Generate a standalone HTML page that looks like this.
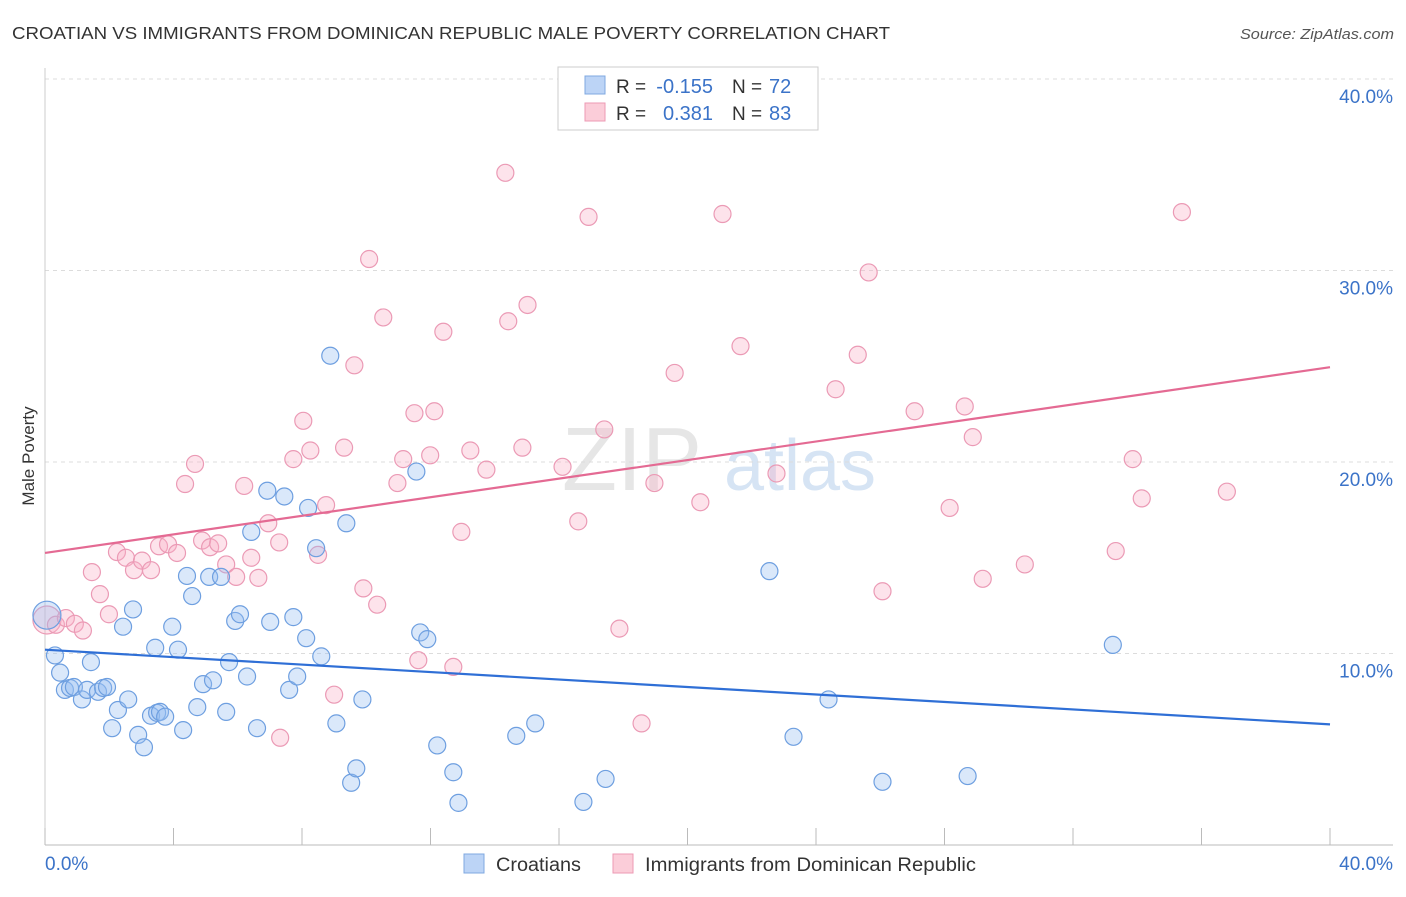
<!DOCTYPE html>
<html><head><meta charset="utf-8"><style>
body{margin:0;background:#fff;font-family:"Liberation Sans",sans-serif;}
svg text{font-family:"Liberation Sans",sans-serif;}
</style></head><body>
<svg id="chart" width="1406" height="892" xmlns="http://www.w3.org/2000/svg">
<text x="12" y="39" font-size="17.5" fill="#333" textLength="878" lengthAdjust="spacingAndGlyphs">CROATIAN VS IMMIGRANTS FROM DOMINICAN REPUBLIC MALE POVERTY CORRELATION CHART</text>
<text x="1240" y="39" font-size="14.5" fill="#555" textLength="154" lengthAdjust="spacingAndGlyphs" font-style="italic">Source: ZipAtlas.com</text>
<text transform="translate(34,456) rotate(-90)" font-size="17" fill="#333" text-anchor="middle">Male Poverty</text>
<g><text x="632" y="490" font-size="90" fill="#e6e6e6" font-family="Liberation Serif" text-anchor="middle">ZIP</text><text x="800" y="490" font-size="72" fill="#d6e4f4" text-anchor="middle">atlas</text></g>
<g id="grid"></g><g id="axes"></g><g id="marks"></g>
<g>
<rect x="558" y="67" width="260" height="63" fill="#fff" stroke="#ccc"/>
<rect x="585" y="76" width="20" height="18" fill="#bcd4f6" stroke="#7fa8e0"/>
<rect x="585" y="103" width="20" height="18" fill="#fbcdd9" stroke="#ec9ab4"/>
<text x="616" y="93" font-size="19" fill="#333">R =</text>
<text x="713" y="93" font-size="20" fill="#3b73c8" text-anchor="end">-0.155</text>
<text x="732" y="93" font-size="19" fill="#333">N =</text>
<text x="769" y="93" font-size="20" fill="#3b73c8">72</text>
<text x="616" y="120" font-size="19" fill="#333">R =</text>
<text x="713" y="120" font-size="20" fill="#3b73c8" text-anchor="end">0.381</text>
<text x="732" y="120" font-size="19" fill="#333">N =</text>
<text x="769" y="120" font-size="20" fill="#3b73c8">83</text>
</g>
<g>
<rect x="464" y="854" width="20" height="19" fill="#bcd4f6" stroke="#7fa8e0"/>
<text x="496" y="871" font-size="19" fill="#333" textLength="85" lengthAdjust="spacingAndGlyphs">Croatians</text>
<rect x="613" y="854" width="20" height="19" fill="#fbcdd9" stroke="#ec9ab4"/>
<text x="645" y="871" font-size="19" fill="#333" textLength="331" lengthAdjust="spacingAndGlyphs">Immigrants from Dominican Republic</text>
</g>
</svg>
<script>
const blueX=[0.06,0.31,0.47,0.62,0.78,0.9,1.15,1.31,1.43,1.65,1.81,1.93,2.09,2.27,2.43,2.59,2.74,2.9,3.08,3.3,3.49,3.58,3.74,3.96,3.43,4.14,4.3,4.42,4.58,4.74,4.92,5.11,5.23,5.48,5.73,5.64,5.92,6.07,6.29,6.42,6.6,6.92,7.01,7.45,7.6,7.73,7.85,8.13,8.19,8.44,8.6,8.88,9.07,9.38,9.53,9.69,9.88,11.56,11.68,11.9,12.21,12.71,12.87,14.67,15.26,16.76,17.45,22.55,23.3,24.39,26.07,28.72,33.24];
const blueY=[12.0,9.9,9.0,8.1,8.2,8.25,7.6,8.1,9.55,8.0,8.2,8.25,6.1,7.05,11.4,7.6,12.3,5.75,5.1,6.75,6.9,6.95,6.7,11.4,10.3,10.2,6.0,14.05,13.0,7.2,8.4,14.0,8.6,14.0,9.55,6.95,11.7,12.05,8.8,16.35,6.1,18.5,11.65,18.2,8.1,11.9,8.8,10.8,17.6,15.5,9.85,25.55,6.35,16.8,3.25,4.0,7.6,19.5,11.1,10.75,5.2,3.8,2.2,5.7,6.35,2.25,3.45,14.3,5.65,7.6,3.3,3.6,10.45];
const pinkX=[0.06,0.34,0.65,0.93,1.18,1.46,1.71,1.99,2.24,2.52,2.77,3.02,3.3,3.55,3.83,4.11,4.36,4.67,4.89,5.14,5.39,5.64,5.95,6.2,6.42,6.64,6.95,7.32,7.29,7.73,8.04,8.26,8.5,8.75,9.0,9.31,9.63,9.91,10.09,10.34,10.53,10.97,11.15,11.5,11.62,11.99,12.12,12.4,12.71,12.96,13.24,13.74,14.33,14.42,14.86,15.02,16.11,16.6,16.92,17.41,17.88,18.57,18.97,19.6,20.4,21.09,21.65,22.77,24.61,25.3,25.64,26.07,27.07,28.16,28.63,28.88,29.19,30.5,33.33,33.86,34.14,35.39,36.79];
const pinkY=[11.75,11.5,11.85,11.55,11.2,14.25,13.1,12.05,15.3,15.0,14.35,14.85,14.35,15.6,15.7,15.25,18.85,19.9,15.9,15.55,15.75,14.65,14.0,18.75,15.0,13.95,16.8,5.6,15.8,20.15,22.15,20.6,15.15,17.75,7.85,20.75,25.05,13.4,30.6,12.55,27.55,18.9,20.15,22.55,9.65,20.35,22.65,26.8,9.3,16.35,20.6,19.6,35.1,27.35,20.75,28.2,19.75,16.9,32.8,21.7,11.3,6.35,18.9,24.65,17.9,32.95,26.05,19.4,23.8,25.6,29.9,13.25,22.65,17.6,22.9,21.3,13.9,14.65,15.35,20.15,18.1,33.05,18.45];
const yTicks=[10,20,30,40];
const yTickLabels=["10.0%","20.0%","30.0%","40.0%"];
const blueTrend=[10.2,6.3];
const pinkTrend=[15.25,24.95];
const NS="http://www.w3.org/2000/svg";
const sx=v=>45+v*32.125, sy=v=>845-v*19.15;
function mk(t,a,p){const e=document.createElementNS(NS,t);for(const k in a)e.setAttribute(k,a[k]);p.appendChild(e);return e;}
const grid=document.getElementById('grid'),axes=document.getElementById('axes'),marks=document.getElementById('marks');
yTicks.forEach((t,i)=>{
 const l=mk('line',{x1:45,x2:1393,y1:sy(t),y2:sy(t),stroke:'#dcdcdc','stroke-dasharray':'4,4'},grid);
 
 
 const tx=mk('text',{x:1393,y:sy(t)+24,'font-size':19,fill:'#3b73c8','text-anchor':'end'},axes);tx.textContent=yTickLabels[i];
 
 
});
const ax=mk('line',{x1:45,x2:1393,y1:845,y2:845,stroke:'#bbb'},axes);


const ay=mk('line',{x1:45,x2:45,y1:68,y2:845,stroke:'#ccc'},axes);


for(let i=0;i<=10;i++){const t=mk('line',{x1:sx(i*4),x2:sx(i*4),y1:828,y2:845,stroke:'#bbb'},axes);
 
 }
const x0=mk('text',{x:45,y:870,'font-size':19,fill:'#3b73c8'},axes);x0.textContent='0.0%';


const x1=mk('text',{x:1393,y:870,'font-size':19,fill:'#3b73c8','text-anchor':'end'},axes);x1.textContent='40.0%';


function pts(X,Y,fill,stroke,name){X.forEach((x,i)=>{const c=mk('circle',{cx:sx(x),cy:sy(Y[i]),r:i===0?14:8.5,fill:fill,stroke:stroke,'stroke-width':1.2},marks);
 
 });}
pts(pinkX,pinkY,'rgba(248,175,198,0.35)','#eb9ab5','dominican-point');
pts(blueX,blueY,'rgba(150,188,240,0.35)','#6e9fe0','croatian-point');
const bl=mk('line',{x1:sx(0),x2:sx(40),y1:sy(blueTrend[0]),y2:sy(blueTrend[1]),stroke:'#2f6fd6','stroke-width':2.2},marks);


const pl=mk('line',{x1:sx(0),x2:sx(40),y1:sy(pinkTrend[0]),y2:sy(pinkTrend[1]),stroke:'#e46a93','stroke-width':2.2},marks);


</script>
</body></html>
